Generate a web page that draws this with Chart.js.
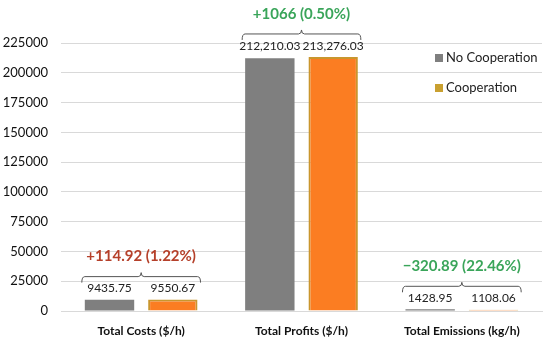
<!DOCTYPE html>
<html>
<head>
<meta charset="utf-8">
<script src="https://cdn.jsdelivr.net/npm/chart.js@4"></script>
<style>
  html, body { margin: 0; padding: 0; background: #fff; }
  #wrap { width: 550px; height: 342px; }
</style>
</head>
<body>
<div id="wrap"><canvas id="myChart"></canvas></div>
<script>
const categories = ["Total Costs ($/h)", "Total Profits ($/h)", "Total Emissions (kg/h)"];
const noCoop = [9435.75, 212210.03, 1428.95];
const coop = [9550.67, 213276.03, 1108.06];
const valueLabelsNo = ["9435.75", "212,210.03", "1428.95"];
const valueLabelsCoop = ["9550.67", "213,276.03", "1108.06"];
const diffLabels = ["+114.92 (1.22%)", "+1066 (0.50%)", "\u2212320.89 (22.46%)"];
const diffColors = ["#b5402a", "#3aa55a", "#3aa55a"];
const yTicks = [0, 25000, 50000, 75000, 100000, 125000, 150000, 175000, 200000, 225000];

const FONT = "Lato, 'Noto Sans', sans-serif";

// value labels, brackets and the change text above each pair
const annotations = {
    id: "annotations",
    afterDatasetsDraw(chart) {
        const { ctx } = chart;
        const m0 = chart.getDatasetMeta(0);
        const m1 = chart.getDatasetMeta(1);
        ctx.save();
        categories.forEach((c, i) => {
            const b0 = m0.data[i], b1 = m1.data[i];
            const top = Math.min(b0.y, b1.y);
            const labelY = top - 11;
            ctx.font = "12px " + FONT;
            ctx.fillStyle = "#222";
            ctx.textAlign = "center";
            ctx.textBaseline = "middle";
            ctx.fillText(valueLabelsNo[i], b0.x, labelY);
            ctx.fillText(valueLabelsCoop[i], b1.x, labelY);

            // bracket
            const left = b0.x - b0.width / 2 - 3;
            const right = b1.x + b1.width / 2 + 3;
            const by = labelY - 12;
            const mid = (left + right) / 2;
            ctx.strokeStyle = "#555";
            ctx.lineWidth = 1;
            ctx.beginPath();
            ctx.moveTo(left, by + 6);
            ctx.quadraticCurveTo(left, by, left + 3, by);
            ctx.lineTo(mid - 3, by);
            ctx.quadraticCurveTo(mid, by, mid, by - 4);
            ctx.quadraticCurveTo(mid, by, mid + 3, by);
            ctx.lineTo(right - 3, by);
            ctx.quadraticCurveTo(right, by, right, by + 6);
            ctx.stroke();

            ctx.font = "bold 15px " + FONT;
            ctx.fillStyle = diffColors[i];
            ctx.fillText(diffLabels[i], mid, by - 20);
        });
        ctx.restore();
    },
};

// vertical legend drawn inside the plot, top right
const sideLegend = {
    id: "sideLegend",
    afterDraw(chart) {
        const { ctx } = chart;
        const items = [
            { text: "No Cooperation", color: "#7f7f7f", y: 58 },
            { text: "Cooperation", color: "#c9a030", y: 88 },
        ];
        ctx.save();
        ctx.font = "13px " + FONT;
        ctx.textBaseline = "middle";
        ctx.textAlign = "left";
        items.forEach((it) => {
            ctx.fillStyle = it.color;
            ctx.fillRect(435, it.y - 4, 8, 8);
            ctx.fillStyle = "#222";
            ctx.fillText(it.text, 446, it.y);
        });
        ctx.restore();
    },
};

const ctx = document.getElementById("myChart");
// eslint-disable-next-line no-unused-vars
const myChart = new Chart(ctx, {
    type: "bar",
    data: {
        labels: categories,
        datasets: [
            {
                label: "No Cooperation",
                data: noCoop,
                backgroundColor: "#7f7f7f",
                borderWidth: 0,
                categoryPercentage: 0.79,
                barPercentage: 0.78,
            },
            {
                label: "Cooperation",
                data: coop,
                backgroundColor: "#fb7d22",
                borderColor: "#c9962e",
                borderWidth: 2,
                categoryPercentage: 0.79,
                barPercentage: 0.78,
            },
        ],
    },
    options: {
        responsive: true,
        maintainAspectRatio: false,
        animation: false,
        layout: { padding: { top: 43, right: 8, left: 0, bottom: 0 } },
        plugins: {
            legend: { display: false },
            tooltip: { enabled: false },
        },
        scales: {
            x: {
                grid: { display: false },
                border: { color: "#d9d9d9" },
                ticks: {
                    color: "#111",
                    font: { family: FONT, size: 12, weight: "bold" },
                    padding: 5,
                },
                afterFit: (s) => { s.height = 31; },
            },
            y: {
                min: 0,
                max: 225000,
                afterBuildTicks: (s) => { s.ticks = yTicks.map((v) => ({ value: v })); },
                grid: { color: "#d9d9d9", drawTicks: false },
                border: { display: false },
                ticks: {
                    color: "#111",
                    font: { family: FONT, size: 13 },
                    padding: 13,
                    callback: (v) => String(v),
                },
                afterFit: (s) => { s.width = 61; },
            },
        },
    },
    plugins: [annotations, sideLegend],
});
</script>
</body>
</html>
